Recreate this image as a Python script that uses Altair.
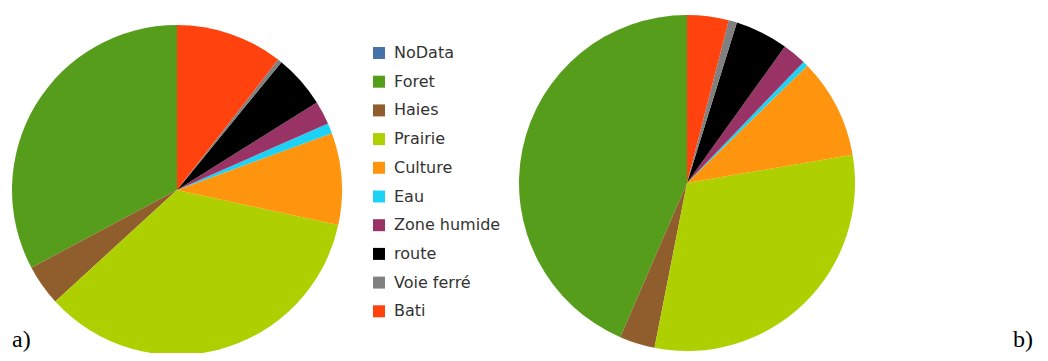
import altair as alt
import pandas as pd

categories = ["NoData", "Foret", "Haies", "Prairie", "Culture", "Eau",
              "Zone humide", "route", "Voie ferré", "Bati"]
colors = ["#4673aa", "#579d1c", "#8f5e2c", "#aecf00", "#ff950e", "#1ed2f5",
          "#993366", "#000000", "#808080", "#ff420e"]
values_a = [0.0, 32.8, 4.0, 34.8, 9.0, 1.0, 2.3, 5.2, 0.4, 10.5]
values_b = [0.0, 43.5, 3.4, 30.8, 9.6, 0.5, 2.3, 5.1, 0.8, 4.0]
panel_labels = ["a)", "b)"]

n = len(categories)
df_a = pd.DataFrame({"cat": categories, "val": values_a,
                     "ord": [n - i for i in range(n)]})
df_b = pd.DataFrame({"cat": categories, "val": values_b,
                     "ord": [n - i for i in range(n)]})

color_scale = alt.Scale(domain=categories, range=colors)

legend = alt.Legend(
    title=None, orient="none", legendX=363, legendY=37,
    symbolType="square", symbolSize=144, symbolStrokeWidth=0,
    labelFontSize=16, labelFont="DejaVu Sans", labelColor="#333333",
    labelOffset=7, rowPadding=12.7, padding=0, symbolOpacity=1,
)

pie_a = alt.Chart(df_a).mark_arc(radius=165, stroke=None).encode(
    theta=alt.Theta("val:Q", stack=True),
    color=alt.Color("cat:N", scale=color_scale, sort=categories, legend=legend),
    order=alt.Order("ord:Q"),
    x=alt.value(169), y=alt.value(182),
)

pie_b = alt.Chart(df_b).mark_arc(radius=168, stroke=None).encode(
    theta=alt.Theta("val:Q", stack=True),
    color=alt.Color("cat:N", scale=color_scale, sort=categories, legend=legend),
    order=alt.Order("ord:Q"),
    x=alt.value(679), y=alt.value(175),
)

lab_a = alt.Chart(pd.DataFrame({"t": [panel_labels[0]]})).mark_text(
    font="Liberation Serif", fontSize=24, align="left", baseline="alphabetic",
    color="#000000").encode(text="t:N", x=alt.value(4), y=alt.value(339))
lab_b = alt.Chart(pd.DataFrame({"t": [panel_labels[1]]})).mark_text(
    font="Liberation Serif", fontSize=24, align="left", baseline="alphabetic",
    color="#000000").encode(text="t:N", x=alt.value(1005), y=alt.value(339))

chart = alt.layer(pie_a, pie_b, lab_a, lab_b).resolve_scale(
    theta="independent"
).properties(
    width=1032, height=345, padding=0,
    autosize=alt.AutoSizeParams(type="fit", contains="padding"),
).configure_view(stroke=None)

chart.save("out.html", embed_options={"renderer": "svg", "actions": False})
